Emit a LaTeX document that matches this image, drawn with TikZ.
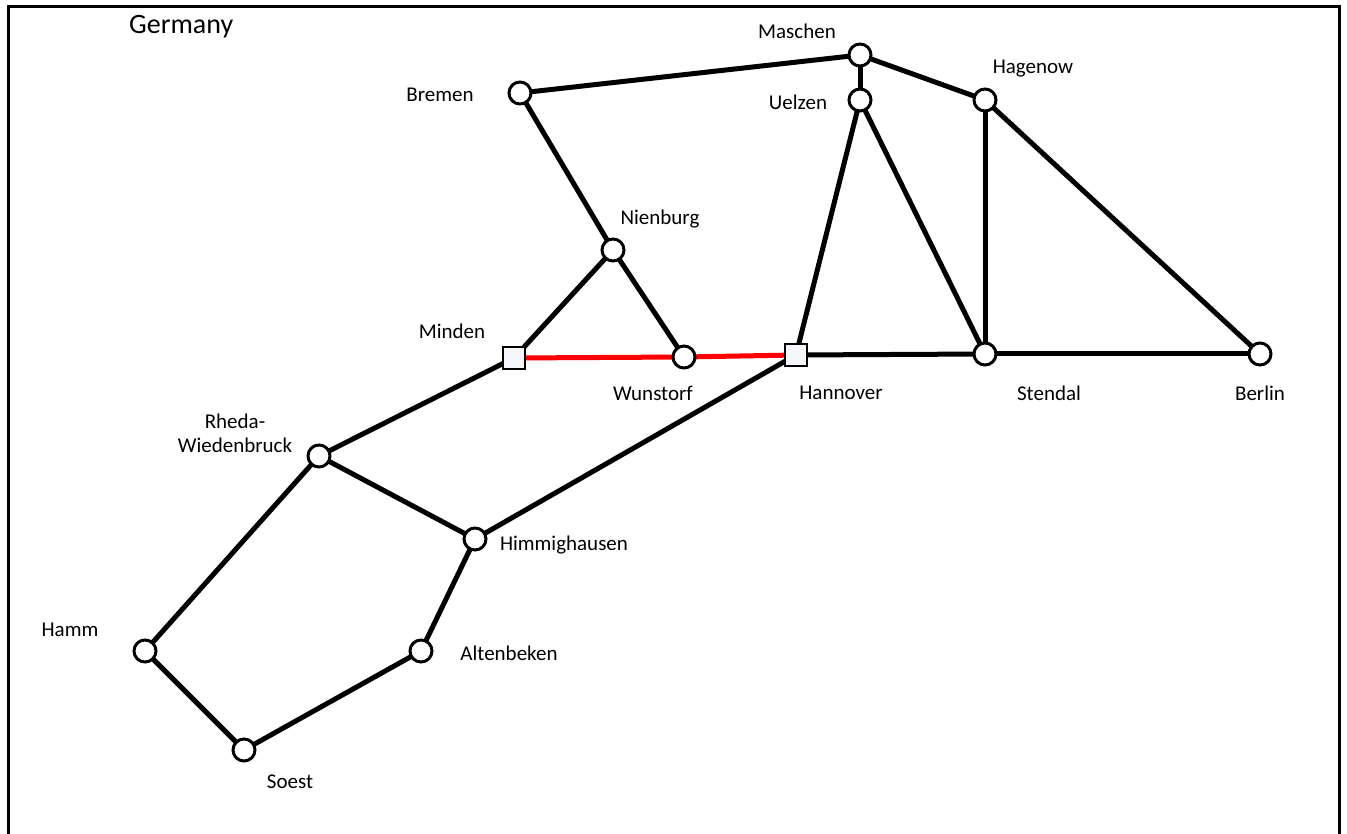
\documentclass[tikz,border=0pt]{standalone}
\usepackage{fontspec}
\setmainfont{Carlito}
\definecolor{hubfill}{HTML}{F4F6FA}
\begin{document}
\begin{tikzpicture}[x=1pt,y=-1pt,
  stn/.style={circle,draw=black,line width=3pt,fill=white,minimum size=22pt,inner sep=0pt},
  hub/.style={rectangle,draw=black,line width=2.6pt,fill=hubfill,minimum size=22pt,inner sep=0pt},
  track/.style={line width=5pt,black},
  redtrack/.style={line width=5pt,red},
  lbl/.style={font=\fontsize{21}{24}\selectfont,inner sep=0pt}]
\useasboundingbox (0,0) rectangle (1347,834);
\draw[line width=3pt] (8,840) -- (8,7) -- (1339.5,7) -- (1339.5,840);
\node[font=\fontsize{28}{32}\selectfont,inner sep=0pt,anchor=west] (title) at (129,27) {Germany};
% stations
\coordinate (pMaschen) at (860,55);
\coordinate (pUelzen) at (860,100);
\coordinate (pHagenow) at (985,100);
\coordinate (pBremen) at (520,93);
\coordinate (pNienburg) at (613,250);
\coordinate (pMinden) at (514,358);
\coordinate (pWunstorf) at (684,357);
\coordinate (pHannover) at (796,355);
\coordinate (pStendal) at (985,354);
\coordinate (pBerlin) at (1260,354);
\coordinate (pRheda) at (319,456);
\coordinate (pHimm) at (475,539);
\coordinate (pAlten) at (421,651);
\coordinate (pHamm) at (145,651);
\coordinate (pSoest) at (244,750);
% edges
\draw[track] (pBremen) -- (pMaschen);
\draw[track] (pMaschen) -- (pUelzen);
\draw[track] (pMaschen) -- (pHagenow);
\draw[track] (pBremen) -- (pNienburg);
\draw[track] (pNienburg) -- (pMinden);
\draw[track] (pNienburg) -- (pWunstorf);
\draw[redtrack] (pMinden) -- (pWunstorf);
\draw[redtrack] (pWunstorf) -- (pHannover);
\draw[track] (pHannover) -- (pUelzen);
\draw[track] (pUelzen) -- (pStendal);
\draw[track] (pHagenow) -- (pStendal);
\draw[track] (pHagenow) -- (pBerlin);
\draw[track] (pHannover) -- (pStendal);
\draw[track] (pStendal) -- (pBerlin);
\draw[track] (pMinden) -- (pRheda);
\draw[track] (pHannover) -- (pHimm);
\draw[track] (pRheda) -- (pHimm);
\draw[track] (pRheda) -- (pHamm);
\draw[track] (pHimm) -- (pAlten);
\draw[track] (pAlten) -- (pSoest);
\draw[track] (pHamm) -- (pSoest);
% nodes
\node[stn] (Maschen) at (pMaschen) {};
\node[stn] (Uelzen) at (pUelzen) {};
\node[stn] (Hagenow) at (pHagenow) {};
\node[stn] (Bremen) at (pBremen) {};
\node[stn] (Nienburg) at (pNienburg) {};
\node[hub] (Minden) at (pMinden) {};
\node[stn] (Wunstorf) at (pWunstorf) {};
\node[hub] (Hannover) at (pHannover) {};
\node[stn] (Stendal) at (pStendal) {};
\node[stn] (Berlin) at (pBerlin) {};
\node[stn] (Rheda) at (pRheda) {};
\node[stn] (Himm) at (pHimm) {};
\node[stn] (Alten) at (pAlten) {};
\node[stn] (Hamm) at (pHamm) {};
\node[stn] (Soest) at (pSoest) {};
% labels
\node[lbl] (lMaschen) at (797,31) {Maschen};
\node[lbl] (lUelzen) at (798,102) {Uelzen};
\node[lbl] (lHagenow) at (1033,69) {Hagenow};
\node[lbl] (lBremen) at (440,95) {Bremen};
\node[lbl] (lNienburg) at (660,219) {Nienburg};
\node[lbl] (lMinden) at (452,331) {Minden};
\node[lbl] (lWunstorf) at (653,393) {Wunstorf};
\node[lbl] (lHannover) at (841,393) {Hannover};
\node[lbl] (lStendal) at (1049,393) {Stendal};
\node[lbl] (lBerlin) at (1260,393) {Berlin};
\node[lbl,align=center] (lRheda) at (235,433) {Rheda-\\Wiedenbruck};
\node[lbl] (lHimm) at (564,545) {Himmighausen};
\node[lbl] (lAlten) at (509,653) {Altenbeken};
\node[lbl] (lHamm) at (70,630) {Hamm};
\node[lbl] (lSoest) at (290,782) {Soest};
\end{tikzpicture}
\end{document}
